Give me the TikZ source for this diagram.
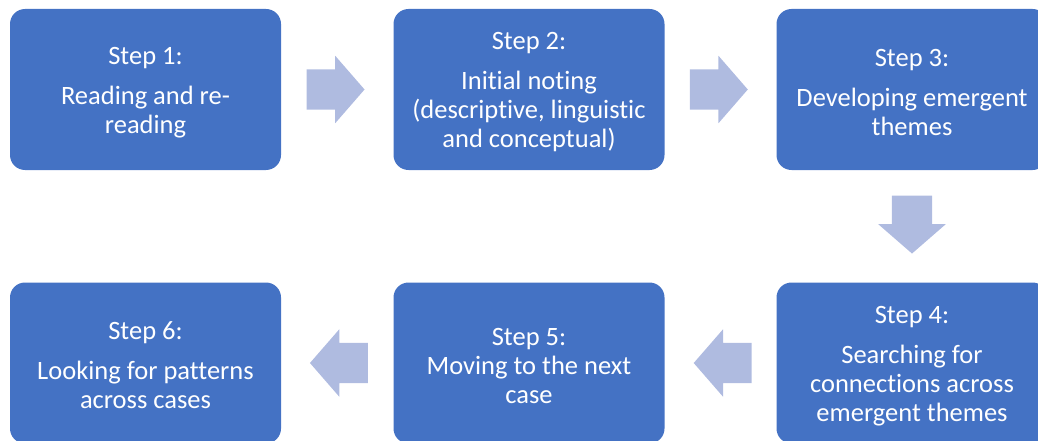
\documentclass[tikz,border=0pt]{standalone}
\usepackage{fontspec}
\setmainfont{Carlito}[Ligatures=NoCommon]
\usetikzlibrary{shapes.arrows,calc}
\definecolor{boxblue}{HTML}{4472C4}
\definecolor{arrowblue}{HTML}{AFBBE0}
\newcommand{\stepstrut}{\rule{0pt}{23pt}}
\begin{document}
\begin{tikzpicture}[x=1pt,y=-1pt,
  stepbox/.style={rectangle,rounded corners=15pt,fill=boxblue,draw=none,
    minimum width=271pt,minimum height=161pt,inner sep=0pt,text=white,align=center,
    font=\fontsize{26.5}{29}\selectfont},
  blockarrow/.style={single arrow,fill=arrowblue,draw=none,minimum height=58pt,
    minimum width=67pt,single arrow head extend=13.5pt,inner xsep=0pt,inner ysep=20pt,
    single arrow tip angle=98}]
\useasboundingbox (0,0) rectangle (1038,441);
\clip (0,0) rectangle (1038,441);
\node[stepbox] (s1) at (145.5,89.5) {\stepstrut Step 1:\\[11pt]Reading and re-\\reading};
\node[stepbox] (s2) at (529,89.5) {\stepstrut Step 2:\\[11pt]Initial noting\\(descriptive, linguistic\\and conceptual)};
\node[stepbox] (s3) at (912,89.5) {\stepstrut Step 3:\\[11pt]Developing emergent\\themes};
\node[stepbox] (s4) at (912,363) {\stepstrut Step 4:\\[11pt]Searching for\\connections across\\emergent themes};
\node[stepbox] (s5) at (529,363) {\stepstrut Step 5:\\Moving to the next\\case};
\node[stepbox] (s6) at (145.5,363) {\stepstrut Step 6:\\[11pt]Looking for patterns\\across cases};
\node[blockarrow] (a12) at ($(s1.east)!0.5!(s2.west)+(-10.5,0)$) {};
\node[blockarrow] (a23) at ($(s2.east)!0.5!(s3.west)+(-10.5,0)$) {};
\node[blockarrow,rotate=-90] (a34) at ($(s3.south)!0.5!(s4.north)+(0,-10.5)$) {};
\node[blockarrow,rotate=180] (a45) at ($(s5.east)!0.5!(s4.west)+(11,0)$) {};
\node[blockarrow,rotate=180] (a56) at ($(s6.east)!0.5!(s5.west)+(10.5,0)$) {};
\end{tikzpicture}
\end{document}
